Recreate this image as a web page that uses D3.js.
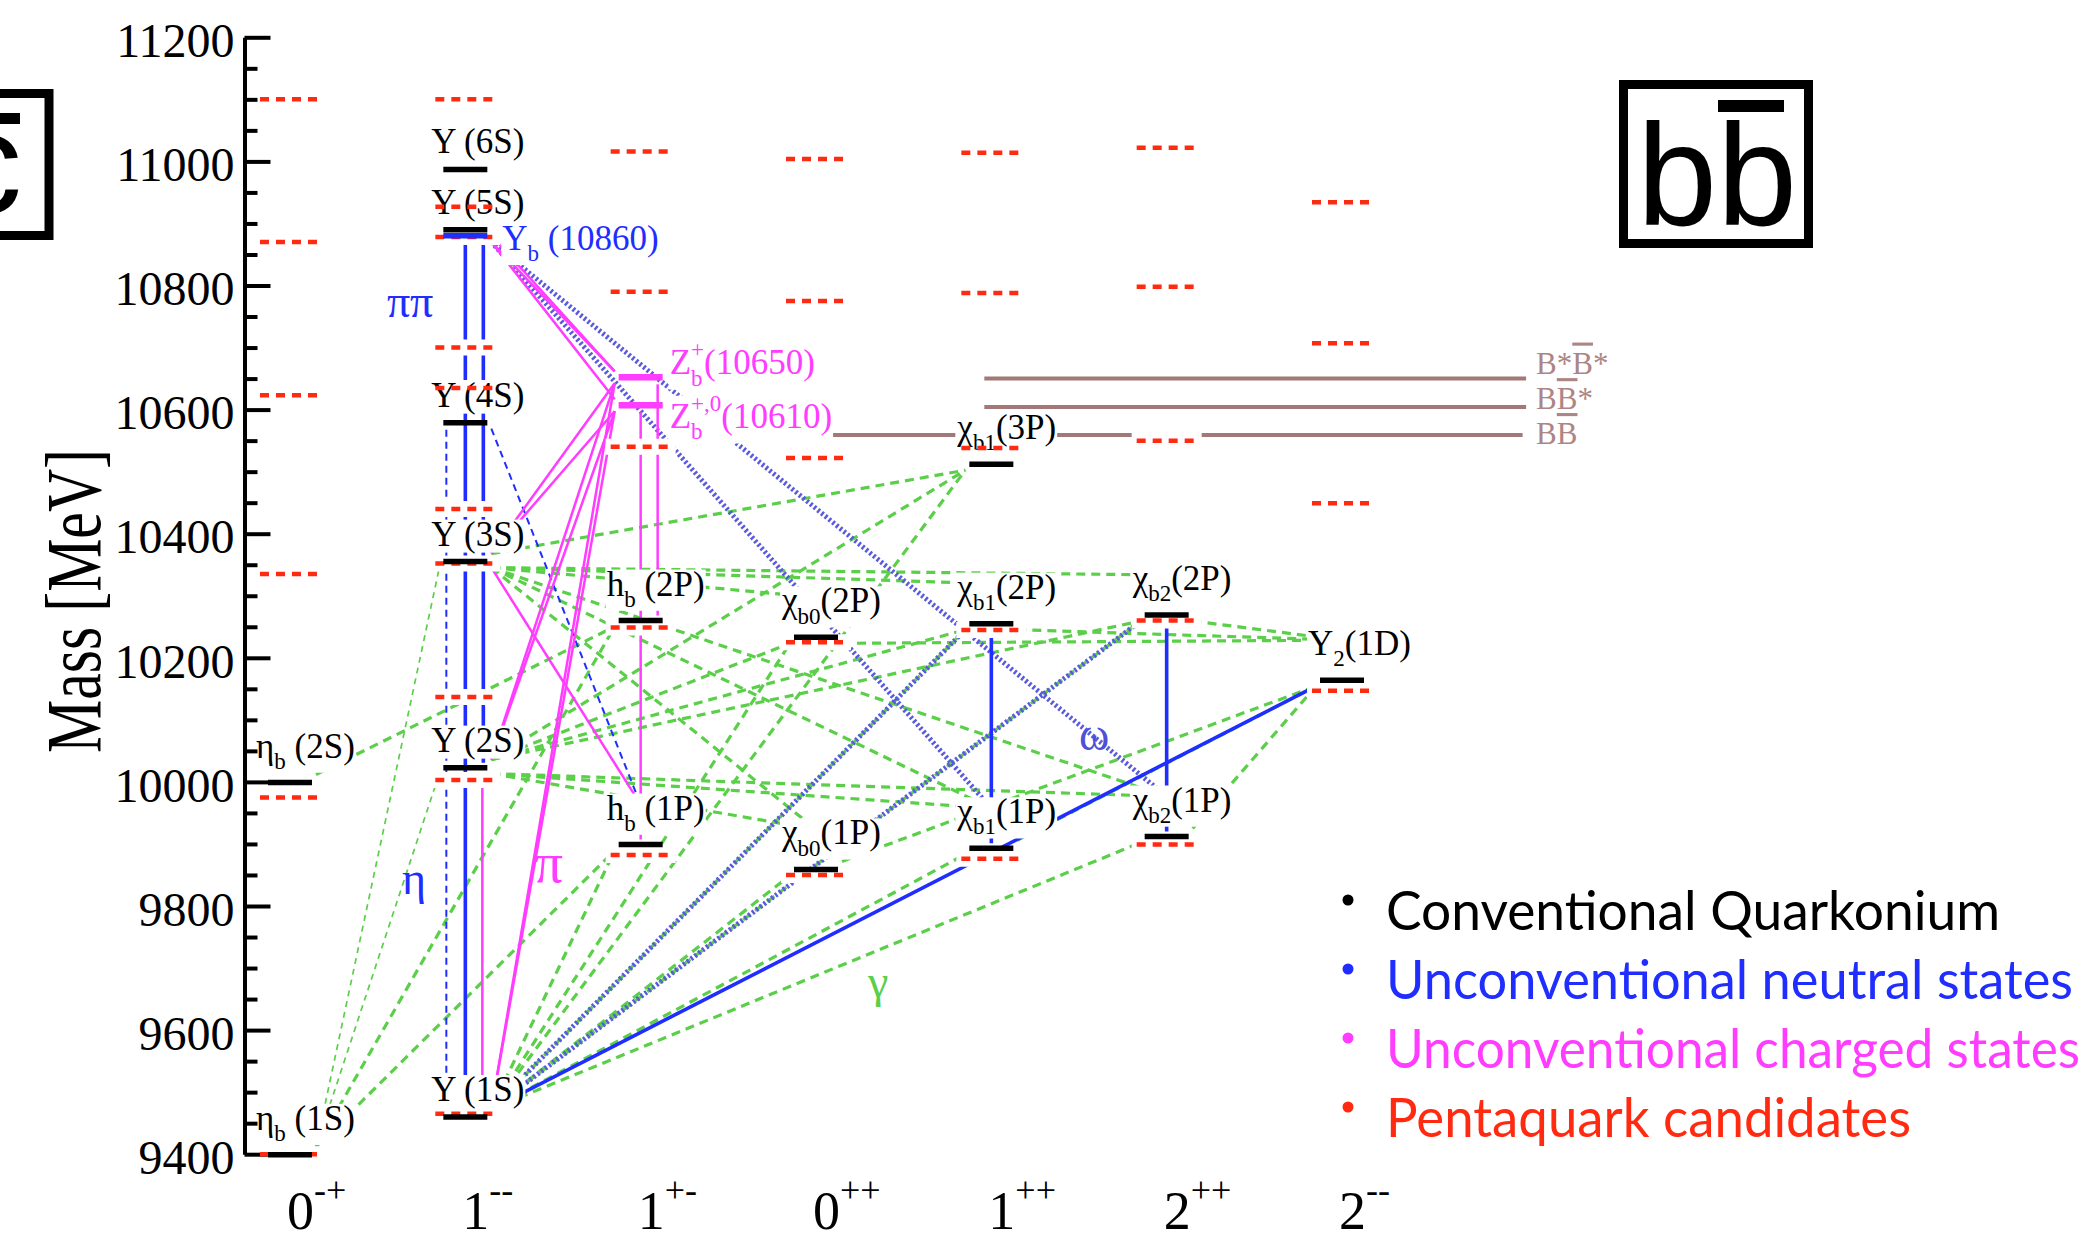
<!DOCTYPE html>
<html>
<head>
<meta charset="utf-8">
<script src="https://cdn.jsdelivr.net/npm/d3@7"></script>
<style>
  body { margin: 0; background: #fff; }
  svg { display: block; }
  text { font-family: "Liberation Serif", "Times New Roman", serif; }
</style>
</head>
<body>
<svg id="chart" width="2095" height="1240"></svg>
<script>
// J^PC columns and mass ticks
const categories = ["0-+", "1--", "1+-", "0++", "1++", "2++", "2--"];
const majorTicks = [9400, 9600, 9800, 10000, 10200, 10400, 10600, 10800, 11000, 11200];
const minorTicks = d3.range(9450, 11200, 50).filter(v => v % 200 !== 0);

// observed states (MeV)
const conventional = [
  { id: "etab1S", label: "η_{b} (1S)", jpc: "0-+", mass: 9399 },
  { id: "etab2S", label: "η_{b} (2S)", jpc: "0-+", mass: 9999 },
  { id: "Y1S", label: "Υ (1S)", jpc: "1--", mass: 9460 },
  { id: "Y2S", label: "Υ (2S)", jpc: "1--", mass: 10023 },
  { id: "Y3S", label: "Υ (3S)", jpc: "1--", mass: 10355 },
  { id: "Y4S", label: "Υ (4S)", jpc: "1--", mass: 10579 },
  { id: "Y5S", label: "Υ (5S)", jpc: "1--", mass: 10890 },
  { id: "Y6S", label: "Υ (6S)", jpc: "1--", mass: 10987 },
  { id: "hb1P", label: "h_{b} (1P)", jpc: "1+-", mass: 9899 },
  { id: "hb2P", label: "h_{b} (2P)", jpc: "1+-", mass: 10260 },
  { id: "chib01P", label: "χ_{b0}(1P)", jpc: "0++", mass: 9859 },
  { id: "chib02P", label: "χ_{b0}(2P)", jpc: "0++", mass: 10233 },
  { id: "chib11P", label: "χ_{b1}(1P)", jpc: "1++", mass: 9893 },
  { id: "chib12P", label: "χ_{b1}(2P)", jpc: "1++", mass: 10255 },
  { id: "chib13P", label: "χ_{b1}(3P)", jpc: "1++", mass: 10512 },
  { id: "chib21P", label: "χ_{b2}(1P)", jpc: "2++", mass: 9912 },
  { id: "chib22P", label: "χ_{b2}(2P)", jpc: "2++", mass: 10269 },
  { id: "Y21D", label: "Υ_{2}(1D)", jpc: "2--", mass: 10164 }
];
const neutral = [
  { id: "Yb10860", label: "Υ_{b} (10860)", jpc: "1--", mass: 10880 }
];
const charged = [
  { id: "Zb10650", label: "Z_{b}^{+}(10650)", jpc: "1+-", mass: 10652 },
  { id: "Zb10610", label: "Z_{b}^{+,0}(10610)", jpc: "1+-", mass: 10607 }
];

// red dashed levels per column
const candidates = [
  ["0-+", [11100, 10870, 10623, 10335, 9975, 9400]],
  ["1--", [11100, 10927, 10878, 10700, 10635, 10440, 10352, 10137, 10003, 9465]],
  ["1+-", [11016, 10790, 10540, 10249, 9882]],
  ["0++", [11004, 10775, 10522, 10225, 9850]],
  ["1++", [11014, 10788, 10538, 10245, 9876]],
  ["2++", [11022, 10798, 10550, 10260, 9899]],
  ["2--", [10934, 10707, 10449, 10147]]
];

// open-bottom thresholds, span given in column units
const thresholds = [
  { parts: ["B*", "B", "*"], mass: 10650, from: 3.96, to: 7.05 },
  { parts: ["B", "B", "*"], mass: 10604, from: 3.96, to: 7.05 },
  { parts: ["B", "B", ""], mass: 10559, from: 3.0, to: 7.03 }
];

// transitions
const e1 = [
  ["Y1S", "hb1P"], ["Y1S", "chib01P"], ["Y1S", "chib11P"], ["Y1S", "chib21P"],
  ["Y1S", "chib02P"], ["Y1S", "chib12P"], ["Y1S", "chib22P"], ["Y1S", "chib13P"],
  ["Y2S", "chib01P"], ["Y2S", "chib11P"], ["Y2S", "chib21P"],
  ["Y2S", "chib02P"], ["Y2S", "chib12P"], ["Y2S", "chib22P"], ["Y2S", "chib13P"],
  ["Y3S", "chib01P"], ["Y3S", "chib11P"], ["Y3S", "chib21P"],
  ["Y3S", "chib02P"], ["Y3S", "chib12P"], ["Y3S", "chib22P"], ["Y3S", "chib13P"],
  ["hb1P", "etab1S"], ["hb2P", "etab1S"], ["hb2P", "etab2S"],
  ["chib02P", "Y21D"], ["chib12P", "Y21D"], ["chib22P", "Y21D"],
  ["Y21D", "chib01P"], ["Y21D", "chib11P"], ["Y21D", "chib21P"]
];
const m1 = [["Y2S", "etab1S"], ["Y3S", "etab1S"]];
const omegaTr = [["Y1S", "chib12P"], ["Y1S", "chib22P"], ["Yb10860", "chib11P"], ["Yb10860", "chib21P"]];
const etaTr = [["Y4S", "Y1S"], ["Y4S", "hb1P"]];
const pipi = [["Y5S", "Y1S"], ["Y5S", "Y2S"], ["chib12P", "chib11P"], ["chib22P", "chib21P"], ["Y21D", "Y1S"]];
const piTr = [
  ["Y5S", "Zb10650"], ["Yb10860", "Zb10650"], ["Yb10860", "Zb10610"],
  ["Zb10650", "Y3S"], ["Zb10610", "Y3S"], ["Zb10650", "Y2S"], ["Zb10610", "Y2S"],
  ["Zb10650", "Y1S"], ["Zb10610", "Y1S"],
  ["Zb10650", "hb2P"], ["Zb10610", "hb1P"], ["Y3S", "hb1P"], ["Y2S", "Y1S"]
];

const annotations = [
  { text: "ππ", col: 0.685, mass: 10749, group: "neutral" },
  { text: "η", col: 0.707, mass: 9819, group: "neutral" },
  { text: "π", col: 1.477, mass: 9839, group: "charged" },
  { text: "ω", col: 4.586, mass: 10051, group: "omega" },
  { text: "γ", col: 3.354, mass: 9653, group: "gamma" }
];

const legendItems = ["Conventional Quarkonium", "Unconventional neutral states", "Unconventional charged states", "Pentaquark candidates"];

// ---------------------------------------------------------------
const W = 2095, H = 1240;
const axisX = 244.5;
const labelSize = 35;
const colors = {
  black: "#000", neutral: "#1f2dff", charged: "#ff3cff", red: "#ff2a10",
  green: "#5bcf49", omega: "#5a5ade", brown: "#a27878", brownText: "#ad8585"
};

const svg = d3.select("#chart");
svg.append("rect").attr("width", W).attr("height", H).attr("fill", "#fff");

const y = d3.scaleLinear().domain([9400, 11200]).range([1154.2, 37.3]);
const x = d3.scaleLinear().domain([0, categories.length - 1]).range([290, 1342]);
const xCat = d3.scalePoint().domain(categories).range([290, 1342]);

const states = [
  ...conventional.map(d => ({ ...d, kind: "conv" })),
  ...neutral.map(d => ({ ...d, kind: "neutral" })),
  ...charged.map((d, i) => ({ ...d, kind: "charged", rank: i }))
];
const byId = Object.fromEntries(states.map(d => [d.id, d]));
const colOf = s => categories.indexOf(s.jpc);

// text with _{sub} and ^{sup}
function rich(textSel, str, size) {
  const parts = str.split(/(_\{[^}]*\}|\^\{[^}]*\})/).filter(s => s.length);
  const small = Math.round(size * 0.66);
  const dn = size * 0.32, up = size * 0.5;
  let shift = 0, subW = 0, prev = "", pendingDx = 0;
  parts.forEach(p => {
    const ts = textSel.append("tspan");
    if (p.startsWith("_{")) {
      ts.text(p.slice(2, -1)).attr("font-size", small).attr("dy", dn - shift);
      if (pendingDx) ts.attr("dx", pendingDx);
      pendingDx = 0; shift = dn;
      subW = ts.node().getComputedTextLength();
      prev = "sub";
    } else if (p.startsWith("^{")) {
      ts.text(p.slice(2, -1)).attr("font-size", small).attr("dy", -up - shift);
      if (prev === "sub") ts.attr("dx", -subW);
      const w = ts.node().getComputedTextLength();
      pendingDx = prev === "sub" ? Math.max(0, subW - w) : 0;
      shift = -up; prev = "sup";
    } else {
      ts.text(p).attr("dy", -shift);
      if (pendingDx) ts.attr("dx", pendingDx);
      pendingDx = 0; shift = 0; prev = "";
    }
  });
}

const gThresh = svg.append("g");
const gLines = svg.append("g").attr("fill", "none");
const gUnder = svg.append("g");
const gLabels = svg.append("g");
const gAxis = svg.append("g");
const gRed = svg.append("g");
const gBars = svg.append("g");
const gAnno = svg.append("g");
const gLegend = svg.append("g");

// thresholds
const threshLabelShift = [-5, 2, 9];
thresholds.forEach((t, i) => {
  gThresh.append("line")
    .attr("x1", x(t.from)).attr("x2", x(t.to))
    .attr("y1", y(t.mass)).attr("y2", y(t.mass))
    .attr("stroke", colors.brown).attr("stroke-width", 4);
  const tx = gThresh.append("text")
    .attr("x", x(7.05) + 10).attr("y", y(t.mass) + threshLabelShift[i])
    .attr("font-size", 31).attr("fill", colors.brownText);
  tx.append("tspan").text(t.parts[0]);
  tx.append("tspan").text(t.parts[1]).style("text-decoration", "overline");
  if (t.parts[2]) tx.append("tspan").text(t.parts[2]);
});

// transitions
const styles = {
  E1: { stroke: colors.green, width: 3.2, dash: "9 6" },
  M1: { stroke: colors.green, width: 1.7, dash: "6 5" },
  omega: { stroke: colors.omega, width: 5, dash: "2.4 2.4" },
  eta: { stroke: colors.neutral, width: 2, dash: "7 5" },
  pipi: { stroke: colors.neutral, width: 3.6, dash: null },
  pi: { stroke: colors.charged, width: 2.5, dash: null }
};
const laneOffsets = { pipi: [0, 18], eta: [-19], pi: [17, 0], E1: [0], M1: [0], omega: [0] };
const laneCount = {};

function segment(type, a, b) {
  const A = byId[a], B = byId[b];
  const ca = colOf(A), cb = colOf(B);
  if (ca === cb) {
    const key = type + ca;
    const lane = laneCount[key] = (laneCount[key] ?? -1) + 1;
    const off = laneOffsets[type][lane] ?? 0;
    const top = A.mass > B.mass ? A : B;
    const bot = top === A ? B : A;
    return [[x(ca) + off, y(top.mass) + 7], [x(ca) + off, y(bot.mass) - 5]];
  }
  const [L, R] = ca < cb ? [A, B] : [B, A];
  const xl = x(colOf(L)), xr = x(colOf(R));
  const yl = y(L.mass), yr = y(R.mass);
  if (yl >= yr) return [[xl + 26, yl - 8], [xr - 26, yr + 6]];
  const end = R.kind === "conv" ? [xr, yr - 40] : [xr - 26, yr - 6];
  return [[xl + 26, yl + 6], end];
}

const sets = [["E1", e1], ["M1", m1], ["omega", omegaTr], ["eta", etaTr], ["pipi", pipi], ["pi", piTr]];
const line = d3.line();
sets.forEach(([type, rows]) => {
  const st = styles[type];
  gLines.selectAll(null)
    .data(rows.map(r => segment(type, r[0], r[1])))
    .join("path")
    .attr("d", line)
    .attr("stroke", st.stroke)
    .attr("stroke-width", st.width)
    .attr("stroke-dasharray", st.dash);
});

// red dashed levels (white knock-out first)
const reds = candidates.flatMap(([c, ms]) => ms.map(m => ({ c, m })));
gUnder.selectAll("line").data(reds).join("line")
  .attr("x1", d => xCat(d.c) - 35).attr("x2", d => xCat(d.c) + 35)
  .attr("y1", d => y(d.m)).attr("y2", d => y(d.m))
  .attr("stroke", "#fff").attr("stroke-width", 16);

// state labels
states.forEach(s => {
  const cx = x(colOf(s)), cy = y(s.mass);
  const g = gLabels.append("g");
  const hasSub = s.label.includes("_{");
  let tx, ty, fill;
  if (s.kind === "conv") { tx = cx - 34; ty = cy - (hasSub ? 25 : 16); fill = colors.black; }
  else if (s.kind === "neutral") { tx = cx + 37; ty = cy + 14; fill = colors.neutral; }
  else { tx = cx + 29; ty = cy + (s.rank === 0 ? -3 : 23); fill = colors.charged; }
  const t = g.append("text").attr("x", tx).attr("y", ty).attr("font-size", labelSize).attr("fill", fill);
  rich(t, s.label, labelSize);
  const bb = t.node().getBBox();
  g.insert("rect", "text")
    .attr("x", bb.x - 1).attr("y", bb.y + 5)
    .attr("width", bb.width + 2).attr("height", bb.height - 6)
    .attr("fill", "#fff");
});

// axis
const yAxis = d3.axisLeft(y).tickValues(majorTicks).tickSize(-26).tickSizeOuter(0)
  .tickPadding(10).tickFormat(d => d);
gAxis.attr("transform", `translate(${axisX},0)`).call(yAxis)
  .attr("font-size", 48);
gAxis.select(".domain").attr("stroke", "#000").attr("stroke-width", 4);
gAxis.selectAll(".tick line").attr("stroke", "#000").attr("stroke-width", 4);
gAxis.selectAll(".tick text").attr("fill", "#000").attr("dy", "0.4em");
const gMinor = svg.append("g").attr("transform", `translate(${axisX},0)`)
  .call(d3.axisLeft(y).tickValues(minorTicks).tickSize(-13).tickFormat(""));
gMinor.select(".domain").remove();
gMinor.selectAll(".tick line").attr("stroke", "#000").attr("stroke-width", 4);

// category labels
categories.forEach(c => {
  const t = svg.append("text").attr("x", xCat(c) - 3).attr("y", 1229)
    .attr("font-size", 54).attr("fill", "#000");
  rich(t, `${c[0]}^{${c.slice(1)}}`, 54);
});

// axis title
svg.append("text")
  .attr("transform", "translate(100,601) rotate(-90)")
  .attr("text-anchor", "middle").attr("font-size", 78)
  .attr("textLength", 304).attr("lengthAdjust", "spacingAndGlyphs")
  .text("Mass [MeV]");

// red dashes
gRed.selectAll("line").data(reds).join("line")
  .attr("x1", d => xCat(d.c) - 30).attr("x2", d => xCat(d.c) + 30)
  .attr("y1", d => y(d.m)).attr("y2", d => y(d.m))
  .attr("stroke", colors.red).attr("stroke-width", 4.5).attr("stroke-dasharray", "9 7");

// level bars
gBars.selectAll("line").data(states).join("line")
  .attr("x1", d => x(colOf(d)) - 22).attr("x2", d => x(colOf(d)) + 22)
  .attr("y1", d => y(d.mass)).attr("y2", d => y(d.mass))
  .attr("stroke", d => d.kind === "conv" ? colors.black : d.kind === "neutral" ? colors.neutral : colors.charged)
  .attr("stroke-width", d => d.kind === "charged" ? 6.5 : 5.5);

// transition annotations
const annoColor = { neutral: colors.neutral, charged: colors.charged, omega: "#4f4fd8", gamma: colors.green };
gAnno.selectAll("text").data(annotations).join("text")
  .attr("x", d => x(d.col)).attr("y", d => y(d.mass))
  .attr("text-anchor", "middle")
  .attr("font-size", d => d.text === "π" ? 56 : 46)
  .attr("fill", d => annoColor[d.group])
  .text(d => d.text);

// quark content boxes
const sans = "'Liberation Sans', Arial, Helvetica, sans-serif";
svg.append("rect").attr("x", 1623.5).attr("y", 84.5).attr("width", 185).attr("height", 159)
  .attr("fill", "none").attr("stroke", "#000").attr("stroke-width", 9);
svg.append("text").attr("x", 1637).attr("y", 225).attr("font-size", 144)
  .style("font-family", sans).text("bb");
svg.append("rect").attr("x", 1718).attr("y", 100).attr("width", 66).attr("height", 12).attr("fill", "#000");

svg.append("rect").attr("x", -150).attr("y", 93.5).attr("width", 199).attr("height", 142)
  .attr("fill", "none").attr("stroke", "#000").attr("stroke-width", 9);
svg.append("text").attr("x", -50).attr("y", 213).attr("font-size", 144)
  .style("font-family", sans).text("c");
svg.append("rect").attr("x", -60).attr("y", 113).attr("width", 80).attr("height", 11).attr("fill", "#000");

// legend
const legendColors = [colors.black, colors.neutral, colors.charged, colors.red];
const legendWidths = [614, 687, 694, 525];
legendItems.forEach((txt, i) => {
  const by = 930 + i * 69;
  gLegend.append("circle").attr("cx", 1348).attr("cy", by - 30).attr("r", 5.5).attr("fill", legendColors[i]);
  gLegend.append("text").attr("x", 1386).attr("y", by)
    .style("font-family", "Lato, 'Open Sans', sans-serif").attr("font-size", 54)
    .attr("textLength", legendWidths[i]).attr("lengthAdjust", "spacingAndGlyphs")
    .attr("fill", legendColors[i]).text(txt);
});
</script>
</body>
</html>
